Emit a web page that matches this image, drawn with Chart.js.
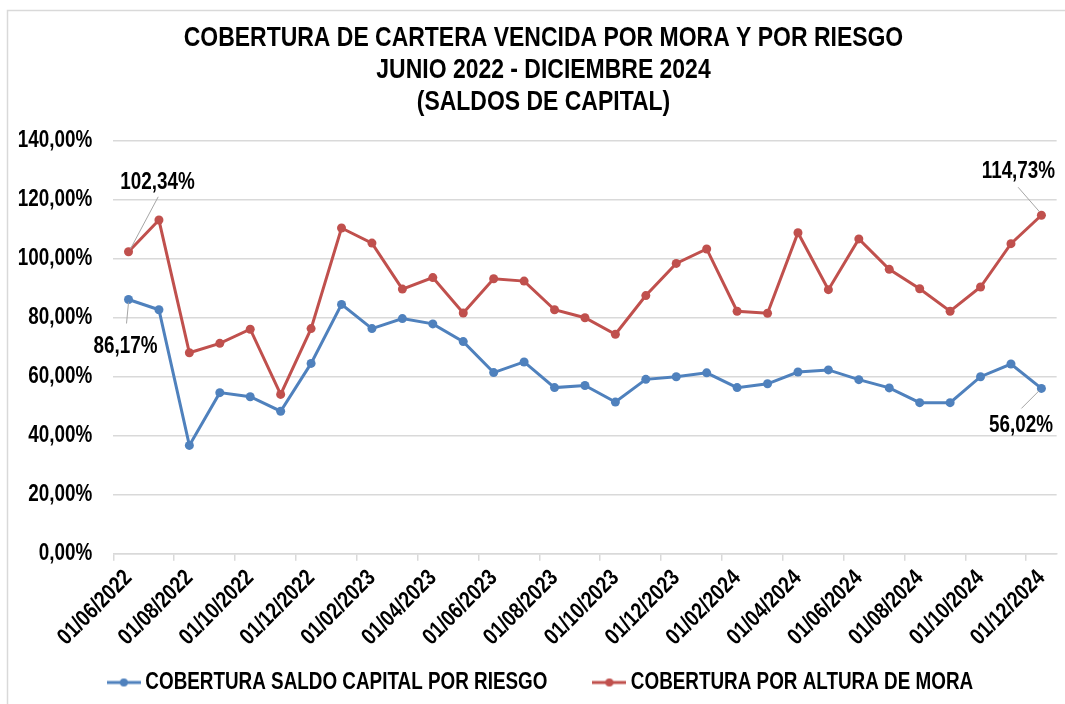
<!DOCTYPE html>
<html><head><meta charset="utf-8">
<script src="https://cdn.jsdelivr.net/npm/chart.js@4.4.1/dist/chart.umd.min.js"></script>
<style>html,body{margin:0;padding:0;background:#fff;}#wrap{width:1065px;height:704px;position:relative;}</style>
</head><body><div id="wrap"><canvas id="c" width="1065" height="704"></canvas></div>
<script>
const categories = ["01/06/2022","01/07/2022","01/08/2022","01/09/2022","01/10/2022","01/11/2022","01/12/2022",
  "01/01/2023","01/02/2023","01/03/2023","01/04/2023","01/05/2023","01/06/2023","01/07/2023","01/08/2023","01/09/2023","01/10/2023","01/11/2023","01/12/2023",
  "01/01/2024","01/02/2024","01/03/2024","01/04/2024","01/05/2024","01/06/2024","01/07/2024","01/08/2024","01/09/2024","01/10/2024","01/11/2024","01/12/2024"];
const riesgo = [86.17,82.7,36.7,54.6,53.2,48.3,64.5,84.5,76.3,79.7,77.9,71.9,61.4,65.0,56.3,57.0,51.4,59.1,60.0,61.3,56.3,57.6,61.6,62.3,59.0,56.2,51.2,51.2,60.0,64.3,56.02];
const mora = [102.34,113.1,68.1,71.3,76.1,54.0,76.3,110.4,105.3,89.7,93.6,81.6,93.2,92.4,82.7,80.0,74.4,87.5,98.4,103.3,82.2,81.5,108.8,89.5,106.7,96.4,89.8,82.2,90.4,105.1,114.73];
const seriesNames = ["COBERTURA SALDO CAPITAL POR RIESGO","COBERTURA POR ALTURA DE MORA"];
const titleLines = ["COBERTURA DE CARTERA VENCIDA POR MORA Y POR RIESGO","JUNIO 2022 - DICIEMBRE 2024","(SALDOS DE CAPITAL)"];
const yMin = 0, yMax = 140, yStep = 20;

const FONT = "'Liberation Sans',Arial,sans-serif";
const BLUE = '#4F81BD', RED = '#C0504D', GRID = '#d9d9d9';
const fmt = v => v.toFixed(2).replace('.', ',') + '%';

// emulate a narrow face (Arial Narrow) by horizontally condensing the text
const canvas = document.getElementById('c');
const ctx2d = canvas.getContext('2d');
const SX = 0.82;
const origMeasure = ctx2d.measureText.bind(ctx2d);
const origFill = ctx2d.fillText.bind(ctx2d);
ctx2d.measureText = function(t){
  const m = origMeasure(t);
  return {width: m.width * SX, actualBoundingBoxAscent: m.actualBoundingBoxAscent, actualBoundingBoxDescent: m.actualBoundingBoxDescent,
    actualBoundingBoxLeft: m.actualBoundingBoxLeft * SX, actualBoundingBoxRight: m.actualBoundingBoxRight * SX,
    fontBoundingBoxAscent: m.fontBoundingBoxAscent, fontBoundingBoxDescent: m.fontBoundingBoxDescent};
};
ctx2d.fillText = function(t, x, y, mw){
  const w = origMeasure(t).width * SX;
  if (!(w > 0)) return;
  origFill(t, x, y, (mw !== undefined && mw < w) ? mw : w);
};

function legendImg(color){
  const c = document.createElement('canvas'); c.width = 34; c.height = 12;
  const g = c.getContext('2d');
  g.strokeStyle = color; g.lineWidth = 3; g.beginPath(); g.moveTo(0,6); g.lineTo(34,6); g.stroke();
  g.fillStyle = color; g.beginPath(); g.arc(17,6,4,0,Math.PI*2); g.fill();
  return c;
}
const legendImgs = [legendImg(BLUE), legendImg(RED)];

// labelled points: dataset index, point index, label offsets relative to the point
const callouts = [
  {ds:1, i:0, dx:29, dy:-69, l1:[2,-3], l2:[29.7,-55]},
  {ds:0, i:0, dx:-3, dy:47, l1:[0,3], l2:[-2,24]},
  {ds:1, i:30, dx:-23, dy:-43.6, l1:[-2,-3.6], l2:[-23.3,-28]},
  {ds:0, i:30, dx:-20.3, dy:37.4, l1:[-2,2], l2:[-20,20]}
];

const framePlugin = {
  id:'frame',
  beforeDraw(chart){
    const ctx = chart.ctx;
    ctx.save();
    ctx.fillStyle = '#fff'; ctx.fillRect(0,0,chart.width,chart.height);
    ctx.strokeStyle = GRID; ctx.lineWidth = 1.5;
    ctx.strokeRect(7.5, 10.5, chart.width + 20, chart.height + 20);
    ctx.restore();
  },
  afterDatasetsDraw(chart){
    const ctx = chart.ctx;
    ctx.save();
    ctx.font = "bold 23px " + FONT;
    ctx.textAlign = 'center'; ctx.textBaseline = 'middle';
    callouts.forEach(c => {
      const el = chart.getDatasetMeta(c.ds).data[c.i];
      const x = el.x, y = el.y;
      ctx.strokeStyle = '#a6a6a6'; ctx.lineWidth = 1;
      ctx.beginPath(); ctx.moveTo(x + c.l1[0], y + c.l1[1]); ctx.lineTo(x + c.l2[0], y + c.l2[1]); ctx.stroke();
      ctx.fillStyle = '#000';
      const v = chart.data.datasets[c.ds].data[c.i];
      ctx.fillText(fmt(v), x + c.dx, y + c.dy);
    });
    ctx.restore();
  }
};

const noClip = () => null;

new Chart(canvas, {
  type:'line',
  data:{
    labels: categories,
    datasets:[
      {label: seriesNames[0], data: riesgo, borderColor: BLUE, backgroundColor: BLUE, borderWidth: 3, pointRadius: 4.5, pointHoverRadius: 4.5, pointBackgroundColor: BLUE, pointBorderWidth: 0, tension: 0},
      {label: seriesNames[1], data: mora, borderColor: RED, backgroundColor: RED, borderWidth: 3, pointRadius: 4.5, pointHoverRadius: 4.5, pointBackgroundColor: RED, pointBorderWidth: 0, tension: 0}
    ]
  },
  options:{
    responsive:false, animation:false, devicePixelRatio:1,
    layout:{padding:{left:27, right:5, top:0, bottom:0}},
    plugins:{
      title:{display:true, text:titleLines, color:'#000', font:{family:FONT, size:28, weight:'bold', lineHeight:32/28}, padding:{top:22, bottom:22.7}},
      legend:{position:'bottom', labels:{usePointStyle:true, pointStyleWidth:20, padding:52, color:'#000', font:{family:FONT, size:23, weight:'bold'},
        generateLabels(chart){
          const items = Chart.defaults.plugins.legend.labels.generateLabels(chart);
          items.forEach((it, k) => { it.pointStyle = legendImgs[k]; });
          return items;
        }}},
      tooltip:{enabled:false}
    },
    scales:{
      x:{
        offset:true,
        grid:{offset:true, drawOnChartArea:false, drawTicks:true, tickLength:7, lineWidth:1.5,
          color: ctx => (ctx.index % 2 === 0 ? GRID : 'rgba(0,0,0,0)'),
          tickColor: ctx => (ctx.index % 2 === 0 ? GRID : 'rgba(0,0,0,0)')},
        border:{display:true, color:GRID, width:1.5},
        ticks:{autoSkip:false, minRotation:45, maxRotation:45, padding:4, color:'#000', font:{family:FONT, size:23, weight:'bold'},
          callback(v, i){ return i % 2 === 0 ? categories[i] : ''; }},
        afterFit(s){ s.height = 65.3; s._computeLabelArea = noClip; }
      },
      y:{
        min:yMin, max:yMax,
        grid:{color:GRID, lineWidth:1.5, drawTicks:false},
        border:{display:false},
        ticks:{stepSize:yStep, padding:21, color:'#000', font:{family:FONT, size:23, weight:'bold'}, callback: v => fmt(v)},
        afterFit(s){ s.width = 86.3; s._computeLabelArea = noClip; }
      }
    }
  },
  plugins:[framePlugin]
});
</script></body></html>
